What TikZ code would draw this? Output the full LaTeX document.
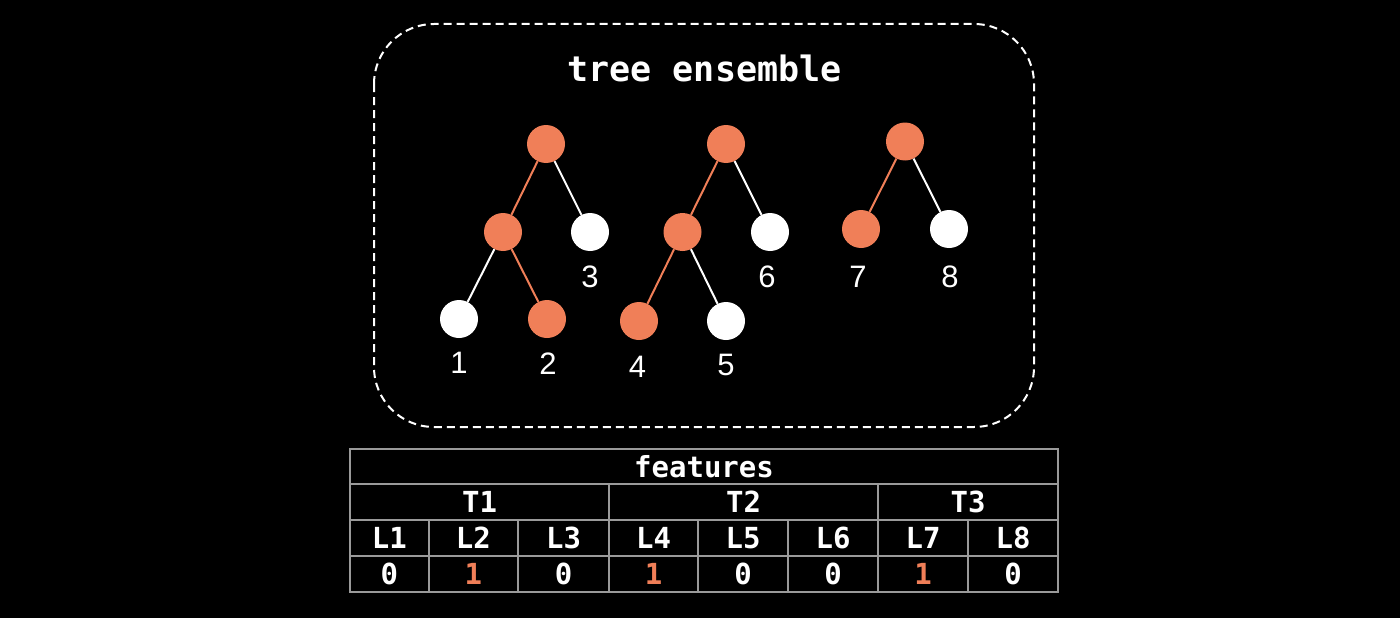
\documentclass[tikz,border=0pt]{standalone}
\usepackage{fontspec}
\setmainfont{Liberation Sans}
\setmonofont{DejaVu Sans Mono}
\definecolor{org}{HTML}{F07F58}
\definecolor{grid}{HTML}{9A9A9A}
\begin{document}
\begin{tikzpicture}[x=1pt,y=-1pt,
  onode/.style={circle,fill=org,minimum size=38pt,inner sep=0},
  wnode/.style={circle,fill=white,minimum size=38pt,inner sep=0},
  oedge/.style={draw=org,line width=2pt},
  wedge/.style={draw=white,line width=2pt},
  leaflabel/.style={text=white,font=\fontsize{31}{36}\selectfont,inner sep=0,
    text height=22pt,text depth=0pt},
  cell/.style={draw=grid,line width=2pt,inner sep=0,text=white,
    font=\ttfamily\bfseries\fontsize{29}{34}\selectfont,
    text height=21pt,text depth=0pt},
]
\fill[black] (0,0) rectangle (1400,618);
\useasboundingbox (0,0) rectangle (1400,618);
% ensemble box
\draw[white,line width=2pt,dash pattern=on 8pt off 5pt,rounded corners=60pt]
  (374,24) rectangle (1034,427);
\node[text=white,font=\ttfamily\bfseries\fontsize{35}{42}\selectfont,inner sep=0] (title) at (704.5,68) {tree ensemble};
% tree 1
\node[onode] (r1) at (546,144) {};
\node[onode] (a1) at (503,232) {};
\node[wnode] (n3) at (590,232) {};
\node[wnode] (n1) at (459,319) {};
\node[onode] (n2) at (547,319) {};
% tree 2
\node[onode] (r2) at (726,144) {};
\node[onode] (a2) at (682.5,232) {};
\node[wnode] (n6) at (770,232) {};
\node[onode] (n4) at (639,321) {};
\node[wnode] (n5) at (726,321) {};
% tree 3
\node[onode] (r3) at (905,141.5) {};
\node[onode] (n7) at (861,229) {};
\node[wnode] (n8) at (949,229) {};
% edges
\draw[oedge] (r1) -- (a1);
\draw[wedge] (r1) -- (n3);
\draw[wedge] (a1) -- (n1);
\draw[oedge] (a1) -- (n2);
\draw[oedge] (r2) -- (a2);
\draw[wedge] (r2) -- (n6);
\draw[oedge] (a2) -- (n4);
\draw[wedge] (a2) -- (n5);
\draw[oedge] (r3) -- (n7);
\draw[wedge] (r3) -- (n8);
% labels
\node[leaflabel] (l3) at (590,276) {3};
\node[leaflabel] (l1) at (459,362) {1};
\node[leaflabel] (l2) at (548,363) {2};
\node[leaflabel] (l4) at (637.5,366) {4};
\node[leaflabel] (l5) at (726,364) {5};
\node[leaflabel] (l6) at (767,276) {6};
\node[leaflabel] (l7) at (858,276) {7};
\node[leaflabel] (l8) at (950,276) {8};
% table
\node[cell,minimum width=708pt,minimum height=35pt] (feat) at (704,466.5) {features};
\node[cell,minimum width=259pt,minimum height=36pt] (t1) at (479.5,502) {T1};
\node[cell,minimum width=269pt,minimum height=36pt] (t2) at (743.5,502) {T2};
\node[cell,minimum width=180pt,minimum height=36pt] (t3) at (968,502) {T3};
\foreach \n/\cx/\w/\v/\c in {1/389.25/78.5/0/white,2/473.25/89.5/1/org,3/563.5/91/0/white,4/653.5/89/1/org,5/743/90/0/white,6/833/90/0/white,7/923/90/1/org,8/1013/90/0/white}{
  \node[cell,minimum width=\w pt,minimum height=36pt] (L\n) at (\cx,538) {L\n};
  \node[cell,minimum width=\w pt,minimum height=36pt,text=\c] (V\n) at (\cx,574) {\v};
}
\end{tikzpicture}
\end{document}
